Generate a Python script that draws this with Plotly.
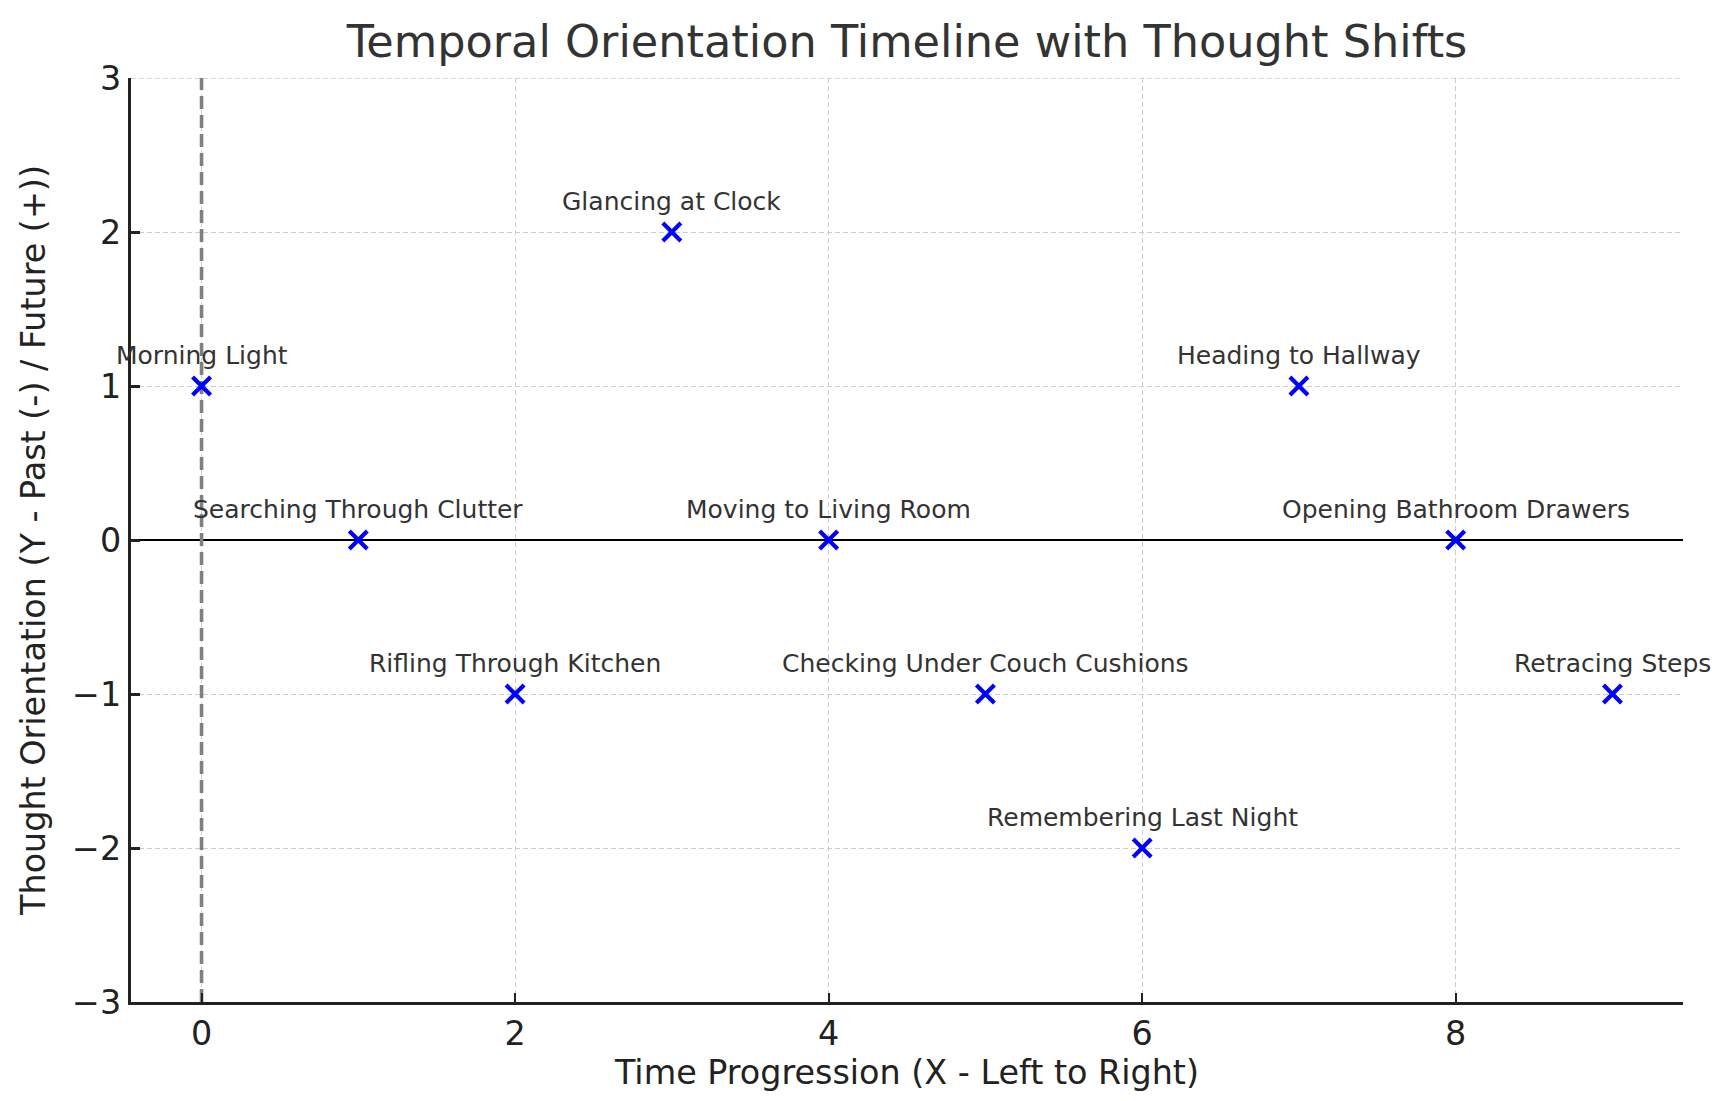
import plotly.graph_objects as go

# Data
time_steps = [0, 1, 2, 3, 4, 5, 6, 7, 8, 9]
orientation = [1, 0, -1, 2, 0, -1, -2, 1, 0, -1]
events = [
    "Morning Light",
    "Searching Through Clutter",
    "Rifling Through Kitchen",
    "Glancing at Clock",
    "Moving to Living Room",
    "Checking Under Couch Cushions",
    "Remembering Last Night",
    "Heading to Hallway",
    "Opening Bathroom Drawers",
    "Retracing Steps",
]
present_x = 0
x_ticks = [0, 2, 4, 6, 8]
y_ticks = [-3, -2, -1, 0, 1, 2, 3]
y_ticktext = ["−3", "−2", "−1", "0", "1", "2", "3"]

FONT = "DejaVu Sans"
GRID = dict(color="#cccccc", width=1.3, dash="5px,3px")

fig = go.Figure()
# vertical dashed line marking the present (x=0)
fig.add_trace(go.Scatter(
    x=[present_x, present_x], y=[y_ticks[0], y_ticks[-1]], mode="lines",
    line=dict(color="#808080", width=3.6, dash="13px,6px"),
    showlegend=False, hoverinfo="skip", cliponaxis=False,
))
fig.add_trace(go.Scatter(
    x=time_steps, y=orientation, mode="markers",
    marker=dict(symbol="x-thin", size=18, color="#0000ff",
                line=dict(width=4.2, color="#0000ff")),
    showlegend=False, hoverinfo="skip",
))

for xv, yv, txt in zip(time_steps, orientation, events):
    fig.add_annotation(x=xv, y=yv, text=txt, showarrow=False,
                       xanchor="center", yanchor="middle", yshift=31,
                       font=dict(family=FONT, size=25, color="#333333"))

# top-edge gridline (matplotlib draws the grid at the top limit too)
fig.add_shape(type="line", xref="paper", yref="y", x0=0, x1=1,
              y0=y_ticks[-1], y1=y_ticks[-1], line=GRID, layer="below")

fig.update_layout(
    width=1721, height=1101,
    margin=dict(l=123, r=46, t=70, b=107),
    paper_bgcolor="white", plot_bgcolor="white",
    font=dict(family=FONT, color="#222222"),
    title=dict(text="Temporal Orientation Timeline with Thought Shifts",
               x=0.5, xref="paper", xanchor="center", y=1 - 33 / 1101, yanchor="middle",
               font=dict(family=FONT, size=44.6, color="#333333")),
)

fig.update_xaxes(
    range=[-0.45, 9.45], tickvals=x_ticks, ticktext=[str(v) for v in x_ticks],
    showgrid=True, gridcolor=GRID["color"], gridwidth=GRID["width"], griddash=GRID["dash"],
    zeroline=False, showline=True, linecolor="#222222", linewidth=3,
    ticks="inside", ticklen=9, tickwidth=2, tickcolor="#222222",
    tickfont=dict(family=FONT, size=33.4, color="#222222"),
    title=dict(text="Time Progression (X - Left to Right)",
               font=dict(family=FONT, size=33.4, color="#222222"), standoff=6),
    mirror=False,
)
fig.update_yaxes(
    range=[-3, 3], tickvals=y_ticks, ticktext=y_ticktext,
    showgrid=True, gridcolor=GRID["color"], gridwidth=GRID["width"], griddash=GRID["dash"],
    zeroline=True, zerolinecolor="#000000", zerolinewidth=1.9,
    showline=True, linecolor="#222222", linewidth=3,
    ticks="inside", ticklen=9, tickwidth=2.5, tickcolor="#222222",
    tickfont=dict(family=FONT, size=33.4, color="#222222"),
    title=dict(text="Thought Orientation (Y - Past (-) / Future (+))",
               font=dict(family=FONT, size=33.4, color="#222222"), standoff=17),
    mirror=False,
)

fig.write_html("out.html")
